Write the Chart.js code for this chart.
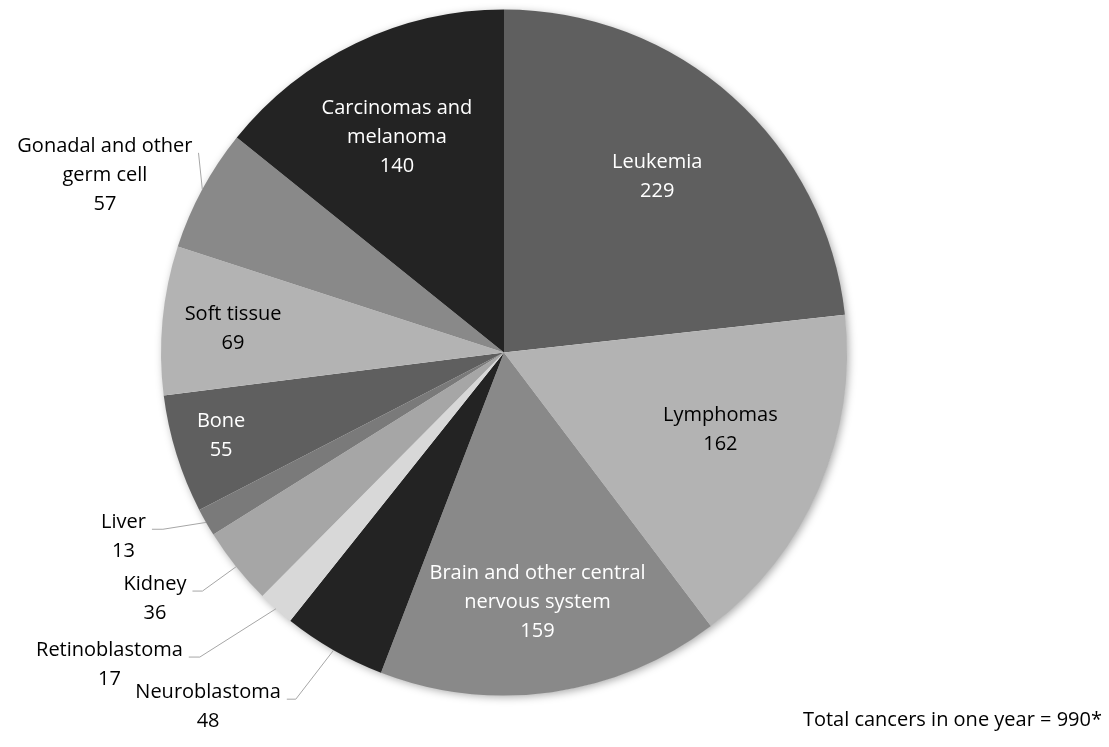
<!DOCTYPE html>
<html>
<head>
<meta charset="utf-8">
<script src="https://cdn.jsdelivr.net/npm/chart.js@4/dist/chart.umd.min.js"></script>
<style>
  html, body { margin: 0; padding: 0; background: #fff; }
  canvas { display: block; }
</style>
</head>
<body>
<canvas id="cancerPie" width="1109" height="747"></canvas>
<script>
"use strict";

// Data (clockwise from 12 o'clock)
const categories = [
    'Leukemia', 'Lymphomas', 'Brain and other central nervous system', 'Neuroblastoma',
    'Retinoblastoma', 'Kidney', 'Liver', 'Bone', 'Soft tissue',
    'Gonadal and other germ cell', 'Carcinomas and melanoma'
];
const cases = [229, 162, 159, 48, 17, 36, 13, 55, 69, 57, 140];
const totalNote = 'Total cancers in one year = 990*';

// Styling
const sliceColors = [
    '#5f5f5f', '#b3b3b3', '#898989', '#232323', '#d8d8d8', '#a6a6a6',
    '#7a7a7a', '#5f5f5f', '#b3b3b3', '#898989', '#232323'
];
// label placement: inside -> radial fraction f, angle shift dA (deg)
// outside -> elbow at fraction f / shift dA, then a short flat run h to the left
const labelLayout = [
    { inside: true, f: 0.68, dA: -0.8, color: '#ffffff' },
    { inside: true, f: 0.67, dA: -3.6, color: '#000000' },
    { inside: true, f: 0.735, dA: 0.4, color: '#ffffff' },
    { inside: false, f: 1.179, dA: 1.2, h: 9 },
    { inside: false, f: 1.255, dA: 3.3, h: 11 },
    { inside: false, f: 1.121, dA: 0.3, h: 10 },
    { inside: false, f: 1.12, dA: 2.3, h: 11 },
    { inside: true, f: 0.86, dA: 0.8, color: '#ffffff' },
    { inside: true, f: 0.793, dA: -0.4, color: '#000000' },
    { inside: false, f: 1.064, dA: 4.75, h: 0, wrap: 190 },
    { inside: true, f: 0.70, dA: -0.9, color: '#ffffff' }
];
const FONT = '20px "Open Sans", sans-serif';
const LINE_H = 29;
const WRAP_W = 232;

var wrapText = function (ctx, text, maxW) {
    var words = text.split(' ');
    var lines = [];
    var cur = '';
    words.forEach(function (w) {
        var test = cur ? cur + ' ' + w : w;
        if (cur && ctx.measureText(test).width > maxW) {
            lines.push(cur);
            cur = w;
        } else {
            cur = test;
        }
    });
    if (cur) lines.push(cur);
    return lines;
};

var sliceLabels = {
    id: 'sliceLabels',
    beforeDatasetsDraw: function (chart) {
        // soft drop shadow behind the whole pie
        var arc = chart.getDatasetMeta(0).data[0];
        if (!arc) return;
        var p = arc.getProps(['x', 'y', 'outerRadius'], true);
        var ctx = chart.ctx;
        ctx.save();
        ctx.shadowColor = 'rgba(0,0,0,0.35)';
        ctx.shadowBlur = 9;
        ctx.shadowOffsetX = 2;
        ctx.shadowOffsetY = 2;
        ctx.fillStyle = '#ffffff';
        ctx.beginPath();
        ctx.arc(p.x, p.y, p.outerRadius - 0.5, 0, Math.PI * 2);
        ctx.fill();
        ctx.restore();
    },
    afterDatasetsDraw: function (chart) {
        var ctx = chart.ctx;
        var meta = chart.getDatasetMeta(0);
        ctx.save();
        ctx.font = FONT;
        ctx.textBaseline = 'middle';
        ctx.textAlign = 'center';

        meta.data.forEach(function (arc, i) {
            var p = arc.getProps(['x', 'y', 'startAngle', 'endAngle', 'outerRadius'], true);
            var lay = labelLayout[i];
            var mid = (p.startAngle + p.endAngle) / 2;
            var ang = mid + lay.dA * Math.PI / 180;
            var lines = wrapText(ctx, categories[i], lay.wrap || WRAP_W).concat([String(cases[i])]);

            if (lay.inside) {
                var cx = p.x + Math.cos(ang) * p.outerRadius * lay.f;
                var cy = p.y + Math.sin(ang) * p.outerRadius * lay.f;
                ctx.fillStyle = lay.color;
                var y0 = cy - (lines.length - 1) * LINE_H / 2;
                lines.forEach(function (t, k) {
                    ctx.fillText(t, cx, y0 + k * LINE_H);
                });
            } else {
                var sx = p.x + Math.cos(mid) * p.outerRadius;
                var sy = p.y + Math.sin(mid) * p.outerRadius;
                var ex = p.x + Math.cos(ang) * p.outerRadius * lay.f;
                var ey = p.y + Math.sin(ang) * p.outerRadius * lay.f;
                ctx.strokeStyle = '#a6a6a6';
                ctx.lineWidth = 1;
                ctx.beginPath();
                ctx.moveTo(sx, sy);
                ctx.lineTo(ex, ey);
                ctx.lineTo(ex - lay.h, ey);
                ctx.stroke();

                var right = ex - lay.h - 6;
                var bw = Math.max.apply(null, lines.map(function (t) { return ctx.measureText(t).width; }));
                var bx = right - bw / 2;
                var by = ey - 7;
                ctx.fillStyle = '#000000';
                lines.forEach(function (t, k) {
                    ctx.fillText(t, bx, by + k * LINE_H);
                });
            }
        });

        // footnote, bottom right
        ctx.textAlign = 'right';
        ctx.fillStyle = '#000000';
        ctx.fillText(totalNote, chart.width - 7, 720);
        ctx.restore();
    }
};

var config = {
    type: 'pie',
    data: {
        labels: categories,
        datasets: [{
            data: cases,
            backgroundColor: sliceColors,
            borderWidth: 0
        }]
    },
    options: {
        responsive: false,
        animation: false,
        layout: {
            padding: { top: 9, bottom: 51, left: 161, right: 262 }
        },
        plugins: {
            legend: { display: false },
            tooltip: { enabled: false }
        }
    },
    plugins: [sliceLabels]
};

new Chart(document.getElementById('cancerPie').getContext('2d'), config);
</script>
</body>
</html>
